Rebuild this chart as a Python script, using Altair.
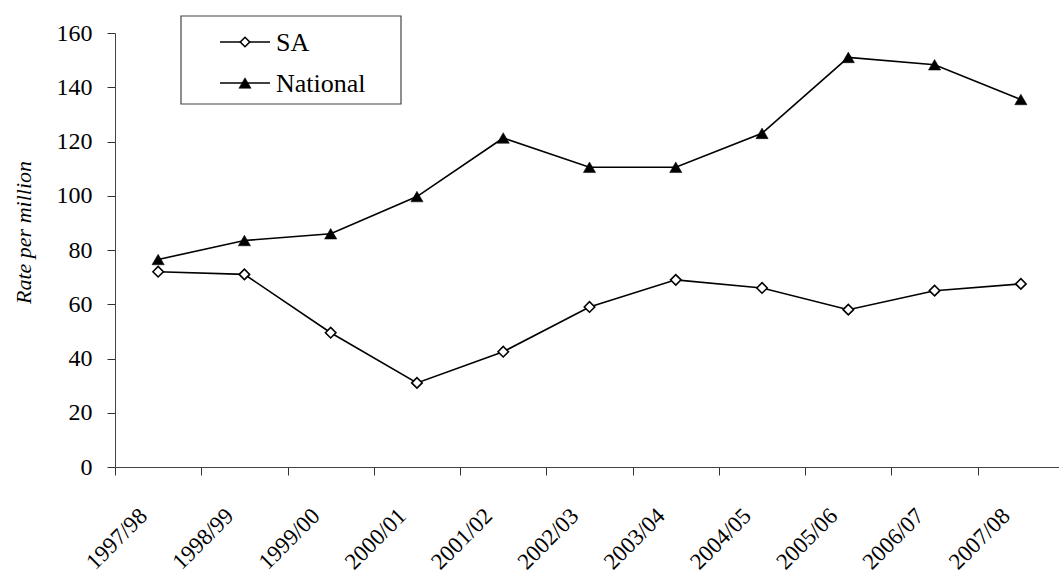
import altair as alt
import pandas as pd

years = ["1997/98", "1998/99", "1999/00", "2000/01", "2001/02", "2002/03",
         "2003/04", "2004/05", "2005/06", "2006/07", "2007/08"]
sa = [72, 71, 49.5, 31, 42.5, 59, 69, 66, 58, 65, 67.5]
national = [76.5, 83.5, 86, 99.7, 121.3, 110.5, 110.5, 123, 151, 148.3, 135.5]
series_names = ["SA", "National"]

FONT = "Liberation Serif"

df = pd.DataFrame({
    "year": years * 2,
    "rate": sa + national,
    "series": [series_names[0]] * len(years) + [series_names[1]] * len(years),
})

x_enc = alt.X(
    "year:N",
    sort=years,
    scale=alt.Scale(type="band", paddingInner=0, paddingOuter=0, range=[0, 949]),
    axis=alt.Axis(
        title=None,
        labelAngle=315,
        labelAlign="right",
        labelBaseline="middle",
        labelFont=FONT,
        labelFontSize=23,
        labelColor="black",
        labelPadding=37,
        labelOffset=-15,
        tickBand="extent",
        tickSize=8,
        tickWidth=1,
        tickColor="#333",
        domainColor="#444",
        grid=False,
        labelOverlap=False,
    ),
)
y_enc = alt.Y(
    "rate:Q",
    scale=alt.Scale(domain=[0, 160], nice=False),
    axis=alt.Axis(
        title="Rate per million",
        values=list(range(0, 161, 20)),
        labelFont=FONT,
        labelFontSize=24,
        labelColor="black",
        labelPadding=15,
        tickSize=8,
        tickColor="#333",
        domainColor="#444",
        grid=False,
        titleFont=FONT,
        titleFontSize=22,
        titleFontStyle="italic",
        titleFontWeight="normal",
        titleColor="black",
        titleAngle=270,
        titleAlign="center",
        titleBaseline="middle",
        titleX=-92,
        titleY=199,
    ),
)

sa_df = df[df["series"] == "SA"]
nat_df = df[df["series"] == "National"]

sa_line = alt.Chart(sa_df).mark_line(color="black", strokeWidth=1.6).encode(x=x_enc, y=y_enc)
sa_pts = alt.Chart(sa_df).mark_point(
    shape="diamond", size=110, filled=True, fill="white", stroke="black", strokeWidth=1.6, opacity=1
).encode(x=x_enc, y=y_enc)

nat_line = alt.Chart(nat_df).mark_line(color="black", strokeWidth=1.6).encode(x=x_enc, y=y_enc)
nat_pts = alt.Chart(nat_df).mark_point(
    shape="triangle-up", size=150, filled=True, fill="black", stroke="black", strokeWidth=0.5, opacity=1
).encode(x=x_enc, y=y_enc)

# Legend box drawn in the upper left of the plot
legend_box = alt.Chart(pd.DataFrame({"k": [0]})).mark_rect(
    fill="white", stroke="#444", strokeWidth=1.2
).encode(x=alt.value(66), x2=alt.value(286), y=alt.value(-17), y2=alt.value(71))

legend_layers = []
for name, ly, shape, fill, size in [
    (series_names[0], 9, "diamond", "white", 90),
    (series_names[1], 50, "triangle-up", "black", 150),
]:
    d = pd.DataFrame({"series": [name]})
    legend_layers.append(
        alt.Chart(d).mark_rule(color="black", strokeWidth=1.6).encode(
            x=alt.value(105), x2=alt.value(155), y=alt.value(ly)
        )
    )
    legend_layers.append(
        alt.Chart(d).mark_point(
            shape=shape, size=size, filled=True, fill=fill, stroke="black",
            strokeWidth=1.6 if fill == "white" else 0.5, opacity=1
        ).encode(x=alt.value(130), y=alt.value(ly))
    )
    legend_layers.append(
        alt.Chart(d).mark_text(
            font=FONT, fontSize=26, align="left", baseline="middle", color="black"
        ).encode(x=alt.value(161), y=alt.value(ly + 1), text="series:N")
    )

chart = alt.layer(
    sa_line, nat_line, sa_pts, nat_pts, legend_box, *legend_layers
).properties(
    width=944,
    height=434,
    autosize=alt.AutoSizeParams(type="none"),
    padding={"left": 115, "top": 33, "right": 0, "bottom": 112},
    background="white",
).configure(font=FONT).configure_view(stroke=None)

chart.save("out.html", embed_options={"renderer": "svg", "actions": False})
